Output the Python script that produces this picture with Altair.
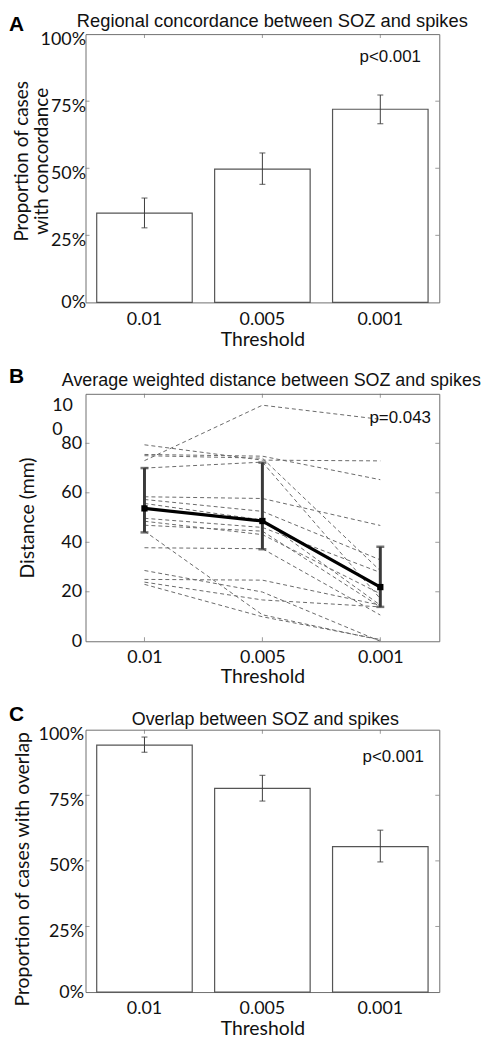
import altair as alt
import pandas as pd

# ---------------- data ----------------
thresholds = ["0.01", "0.005", "0.001"]

# Panel A: regional concordance (proportion of cases)
conc_mean = [0.333, 0.497, 0.720]
conc_low = [0.278, 0.440, 0.666]
conc_high = [0.389, 0.557, 0.773]

# Panel B: average weighted distance (mm), one row per patient
patients = ["P1", "P2", "P3", "P4", "P5", "P6", "P7", "P8", "P9",
            "P10", "P11", "P12", "P13", "P14", "P15", "P16", "P17"]
dist_t001 = [73.0, 79.4, 75.5, 75.0, 70.0, 58.4, 57.3, 55.7, 49.7,
             48.5, 46.9, 44.5, 37.8, 28.6, 25.0, 23.9, 23.0]
dist_t0005 = [95.4, 73.2, 74.8, 74.0, 72.4, 57.7, 52.5, 49.0, 46.0,
              43.1, 44.5, 10.7, 37.4, 19.9, 24.7, 16.7, 9.9]
dist_t0001 = [89.7, 72.9, 65.3, 28.5, 17.2, 46.8, 32.9, 14.6, 27.8,
              19.2, 13.9, 0.5, 10.6, 0.0, 14.6, 13.9, 0.7]
dist_mean = [53.7, 48.6, 21.9]
dist_low = [44.0, 37.2, 13.9]
dist_high = [70.0, 72.2, 38.2]

# Panel C: overlap (proportion of cases)
ovl_mean = [0.941, 0.776, 0.554]
ovl_low = [0.914, 0.728, 0.496]
ovl_high = [0.972, 0.826, 0.617]

pct_ticks = [0, 0.25, 0.5, 0.75, 1.0]
pct_inner = [0.25, 0.5, 0.75]
dist_ticks = [0, 20, 40, 60, 80, 100]
dist_inner = [20, 40, 60, 80]

ytitle_A = ["Proportion of cases", "with concordance"]

# ---------------- style ----------------
W = 356
LAB = "Lato"
ARIAL = "Liberation Sans"
FRAME = "#707070"
INK = "#3c3c3c"
TXT = "#111111"


class Enc:
    """Position encodings that share one scale and one axis definition."""

    def __init__(self, xtype, xscale, xaxis, yscale, yaxis):
        self.xtype, self.xscale, self.xaxis = xtype, xscale, xaxis
        self.yscale, self.yaxis = yscale, yaxis

    def x(self, field="thr"):
        return alt.X(f"{field}:{self.xtype}", scale=self.xscale, axis=self.xaxis)

    def y(self, field):
        return alt.Y(f"{field}:Q", scale=self.yscale, axis=self.yaxis)


def edge_ticks(enc, yvals, H, bottom=True):
    dx = pd.DataFrame({"thr": thresholds})
    dy = pd.DataFrame({"v": yvals})
    kw = dict(size=4, thickness=1, color=FRAME)
    out = [alt.Chart(dx).mark_tick(orient="vertical", yOffset=2, **kw).encode(x=enc.x(), y=alt.value(0))]
    if bottom:
        out.append(alt.Chart(dx).mark_tick(orient="vertical", yOffset=-2, **kw).encode(x=enc.x(), y=alt.value(H)))
    out.append(alt.Chart(dy).mark_tick(orient="horizontal", xOffset=2, **kw).encode(y=enc.y("v"), x=alt.value(0)))
    out.append(alt.Chart(dy).mark_tick(orient="horizontal", xOffset=-2, **kw).encode(y=enc.y("v"), x=alt.value(W)))
    return out


def label_layers(letter, letter_y, title, title_size, title_dx, title_y):
    one = pd.DataFrame({"t": [letter], "h": [title]})
    let = alt.Chart(one).mark_text(
        font=ARIAL, fontWeight="bold", fontSize=21, align="left", baseline="top", color="black"
    ).encode(text="t:N", x=alt.value(-77), y=alt.value(letter_y))
    tit = alt.Chart(one).mark_text(
        font=ARIAL, fontSize=title_size, align="center", baseline="top", color=TXT
    ).encode(text="h:N", x=alt.value(W / 2 + title_dx), y=alt.value(title_y))
    return [let, tit]


def rotated_titles(lines, xs, ycenter):
    out = []
    for line, xpos in zip(lines, xs):
        d = pd.DataFrame({"t": [line]})
        out.append(alt.Chart(d).mark_text(
            font=LAB, fontSize=19, angle=270, align="center", baseline="middle", color=TXT
        ).encode(text="t:N", x=alt.value(xpos), y=alt.value(ycenter)))
    return out


def p_layer(enc, label, yval, dx):
    d = pd.DataFrame({"thr": ["0.001"], "v": [yval], "t": [label]})
    return alt.Chart(d).mark_text(
        font=ARIAL, fontSize=17, align="center", baseline="middle", color=TXT, dx=dx
    ).encode(x=enc.x(), y=enc.y("v"), text="t:N")


def bar_panel(letter, letter_y, title, title_size, title_dx, title_y, ytitle, y_title_pad,
              label_pad, means, lows, highs, ptext, p_y, p_dx, H, extra=(), title_shift=0):
    df = pd.DataFrame({"thr": thresholds, "m": means, "lo": lows, "hi": highs})
    xscale = alt.Scale(domain=thresholds, paddingInner=0.19, paddingOuter=0.095)
    yscale = alt.Scale(domain=[0, 1], nice=False, zero=True)
    xaxis = alt.Axis(title="Threshold", labelAngle=0, labelPadding=8, titlePadding=2)
    label_off = {"condition": {"test": "datum.value > 0.1", "value": 5}, "value": 0}
    if ytitle is None:
        yaxis = alt.Axis(values=pct_ticks, format=".0%", title=None, labelPadding=label_pad,
                         labelOverlap=False, labelOffset=label_off)
    else:
        yaxis = alt.Axis(values=pct_ticks, format=".0%", title=ytitle, labelPadding=label_pad,
                         titlePadding=y_title_pad, labelOverlap=False, labelOffset=label_off,
                         titleY=H / 2 + title_shift)
    enc = Enc("N", xscale, xaxis, yscale, yaxis)
    base = alt.Chart(df)
    bars = base.mark_bar(fill="white", stroke="#555555", strokeWidth=1.2).encode(
        x=enc.x(), y=enc.y("m"))
    err = base.mark_rule(color=INK, strokeWidth=1).encode(x=enc.x(), y=enc.y("lo"), y2="hi:Q")
    cap_lo = base.mark_tick(orient="horizontal", size=6, thickness=1.2, color=INK).encode(
        x=enc.x(), y=enc.y("lo"))
    cap_hi = base.mark_tick(orient="horizontal", size=6, thickness=1.2, color=INK).encode(
        x=enc.x(), y=enc.y("hi"))
    layers = edge_ticks(enc, pct_inner, H, bottom=False) + [
        bars, err, cap_lo, cap_hi,
        p_layer(enc, ptext, p_y, p_dx),
    ] + label_layers(letter, letter_y, title, title_size, title_dx, title_y) + list(extra)
    return alt.layer(*layers).properties(width=W, height=H)


# ---------------- panel A ----------------
HA = 270
chartA = bar_panel("A", -20, "Regional concordance between SOZ and spikes", 18.4, 10, -22,
                   None, 0, 0,
                   conc_mean, conc_low, conc_high, "p<0.001", 0.916, 10, HA,
                   extra=rotated_titles(ytitle_A, [-64, -44], HA / 2 - 7))

# ---------------- panel B ----------------
HB = 249
rows = []
for i, p in enumerate(patients):
    rows.append({"pid": p, "thr": "0.01", "d": dist_t001[i]})
    rows.append({"pid": p, "thr": "0.005", "d": dist_t0005[i]})
    rows.append({"pid": p, "thr": "0.001", "d": dist_t0001[i]})
df_pat = pd.DataFrame(rows)
df_mean = pd.DataFrame({"thr": thresholds, "m": dist_mean, "lo": dist_low, "hi": dist_high})

xsB = alt.Scale(type="point", domain=thresholds, padding=0.5)
ysB = alt.Scale(domain=[0, 100], nice=False)
cond = "datum.value == 100"
yaxisB = alt.Axis(
    values=dist_ticks, title="Distance (mm)", titlePadding=14, labelOverlap=False,
    labelExpr="datum.value == 100 ? ['10', '0'] : datum.label",
    labelAlign={"condition": {"test": cond, "value": "left"}, "value": "right"},
    labelBaseline={"condition": {"test": cond, "value": "top"}, "value": "middle"},
    labelPadding={"condition": {"test": cond, "value": 34}, "value": 4},
    labelOffset={"condition": {"test": cond, "value": 3}, "value": 0},
    labelLineHeight=24,
)
xaxisB = alt.Axis(title="Threshold", labelAngle=0, labelPadding=7, titlePadding=2)
encB = Enc("O", xsB, xaxisB, ysB, yaxisB)

pat_lines = alt.Chart(df_pat).mark_line(color="#6a6a6a", strokeWidth=1, strokeDash=[4, 3]).encode(
    x=encB.x(), y=encB.y("d"), detail="pid:N")
bm = alt.Chart(df_mean)
mean_err = bm.mark_rule(color="#3a3a3a", strokeWidth=3).encode(
    x=encB.x(), y=encB.y("lo"), y2="hi:Q")
mean_cap_lo = bm.mark_tick(orient="horizontal", size=8, thickness=2.5, color="#3a3a3a").encode(
    x=encB.x(), y=encB.y("lo"))
mean_cap_hi = bm.mark_tick(orient="horizontal", size=8, thickness=2.5, color="#3a3a3a").encode(
    x=encB.x(), y=encB.y("hi"))
mean_line = bm.mark_line(color="black", strokeWidth=3.2).encode(x=encB.x(), y=encB.y("m"))
mean_pts = bm.mark_square(color="black", size=40, opacity=1).encode(x=encB.x(), y=encB.y("m"))

chartB = alt.layer(
    *edge_ticks(encB, dist_inner, HB),
    pat_lines, mean_err, mean_cap_lo, mean_cap_hi, mean_line, mean_pts,
    p_layer(encB, "p=0.043", 90.3, 20),
    *label_layers("B", -28, "Average weighted distance between SOZ and spikes", 18, 9, -22),
).properties(width=W, height=HB)

# ---------------- panel C ----------------
HC = 264
chartC = bar_panel("C", -26, "Overlap between SOZ and spikes", 18, 3, -18.5,
                   "Proportion of cases with overlap", 6, 2,
                   ovl_mean, ovl_low, ovl_high, "p<0.001", 0.897, 13, HC, title_shift=8)

chart = alt.vconcat(chartA, chartB, chartC, spacing=16).properties(
    padding=0, background="white"
).configure_view(
    stroke=FRAME, strokeWidth=1
).configure_axis(
    domain=False, ticks=False, grid=False,
    labelFont=LAB, labelFontSize=18, labelColor=TXT,
    titleFont=LAB, titleFontSize=19.5, titleFontWeight="normal", titleColor=TXT,
)

chart.save("out.html", embed_options={"renderer": "svg", "actions": False})
